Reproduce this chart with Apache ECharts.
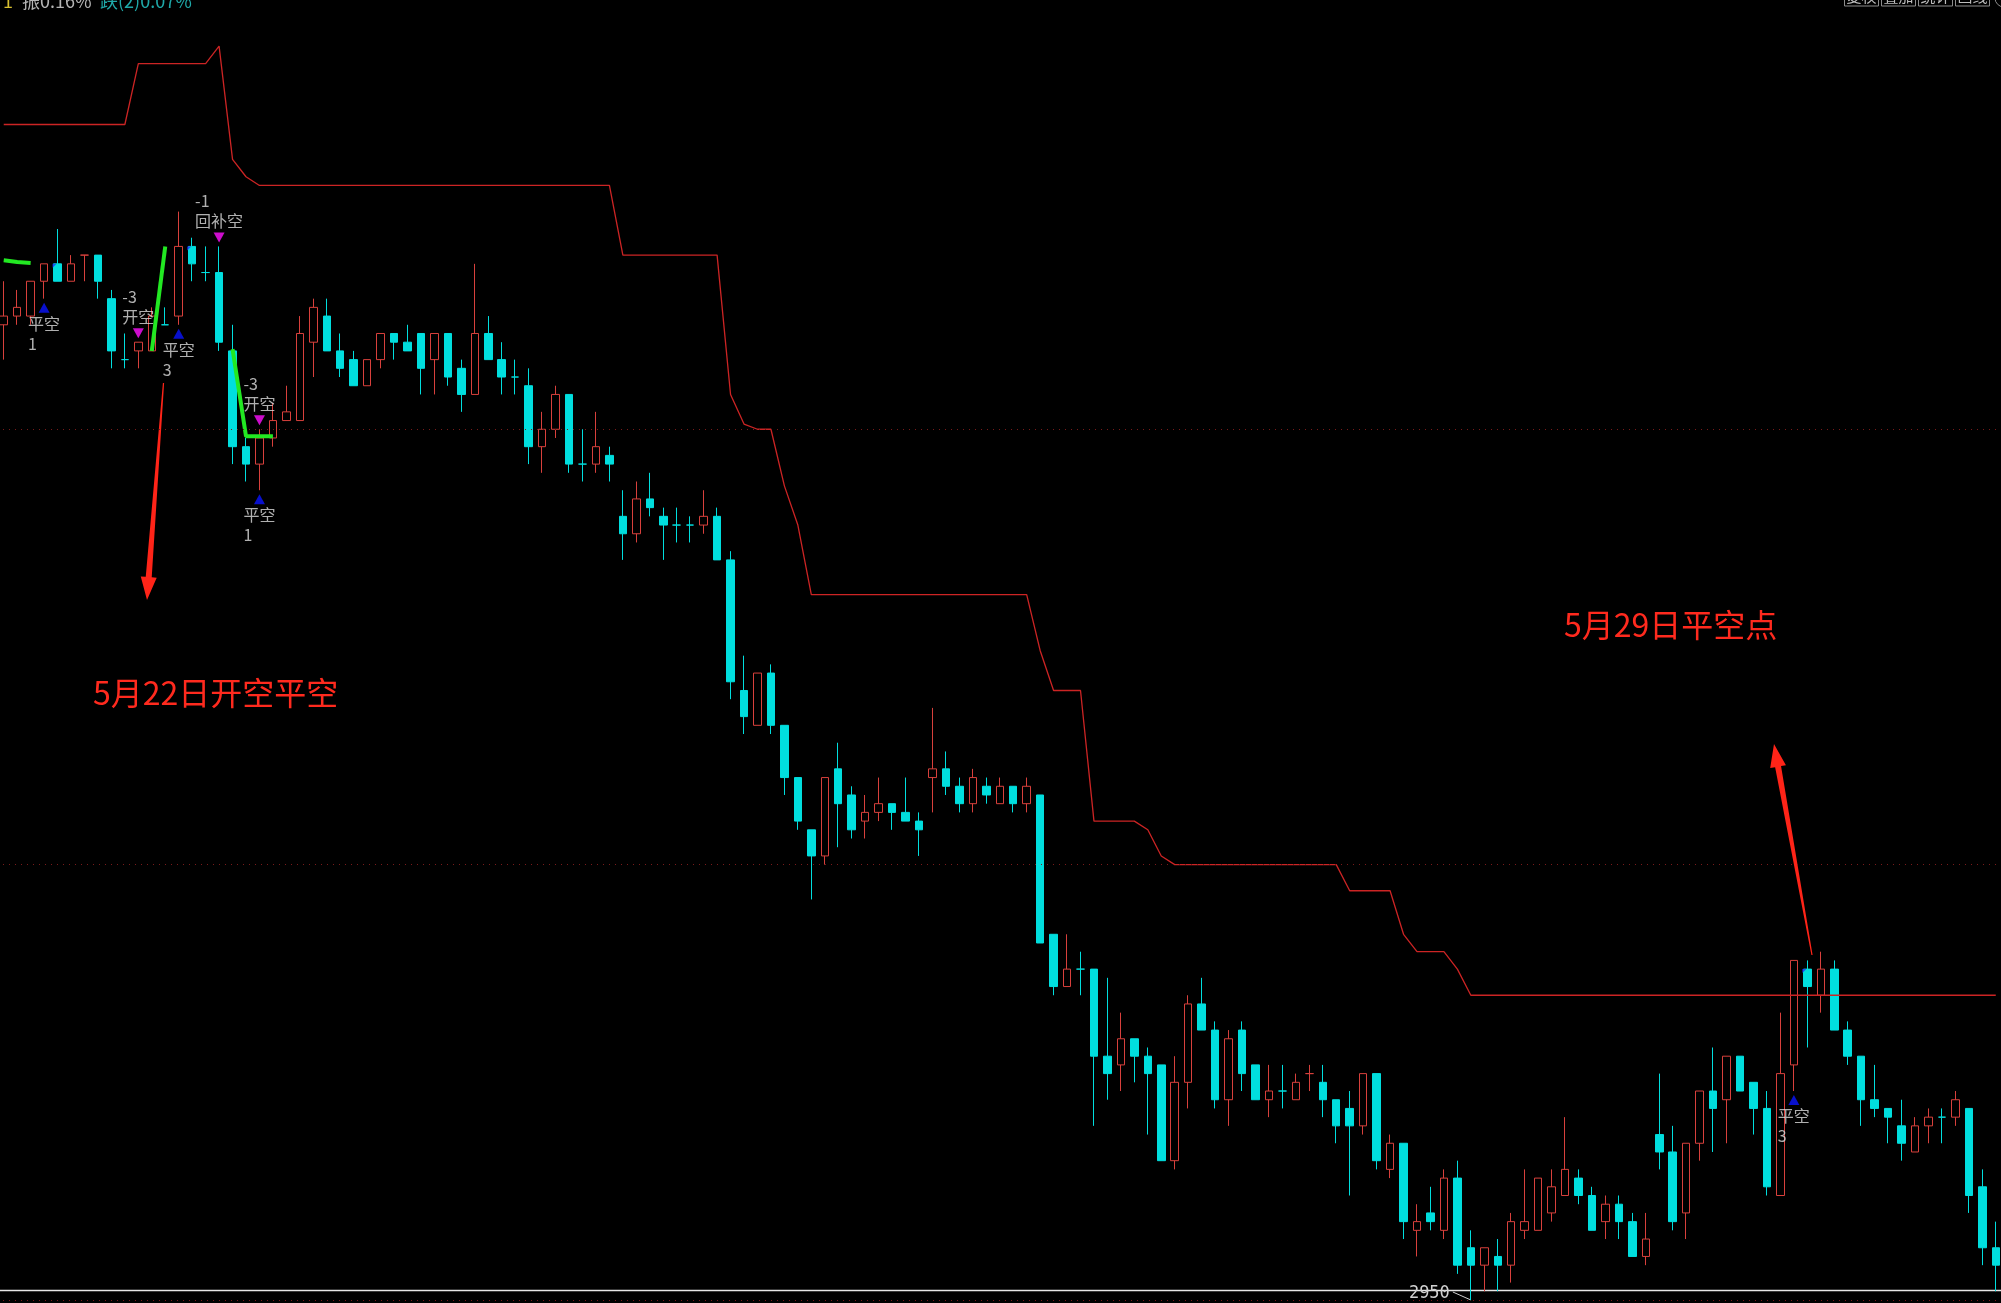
<!DOCTYPE html>
<html><head><meta charset="utf-8">
<script src="https://cdn.jsdelivr.net/npm/echarts@6/dist/echarts.min.js"></script>
<style>html,body{margin:0;padding:0;background:#000;overflow:hidden;width:2001px;height:1303px;position:relative}
#c{position:absolute;left:-3px;top:0;width:2006px;height:1303px}</style>
</head><body><div id="c"></div>
<script>
// ---------------- data ----------------
const opens = [3062,3063,3063,3067,3069,3067,3070,3070,3065,3058,
3059,3059,3062,3063,3071,3068,3068,3059,3048,3046,
3049,3051,3051,3060,3063,3059,3058,3055,3058,3061,
3060,3061,3058,3061,3057,3054,3061,3058,3056,3055,
3048,3050,3054,3046,3046,3047,3040,3038,3042,3040,
3039,3039,3039,3040,3035,3020,3016,3022,3016,3010,
3004,3001,3011,3008,3005,3006,3007,3006,3005,3010,
3011,3009,3007,3009,3007,3009,3007,3008,2992,2986,
2988,2988,2978,2977,2980,2978,2977,2966,2975,2984,
2981,2973,2981,2977,2973,2974,2973,2976,2975,2973,
2972,2970,2976,2965,2968,2958,2960,2958,2964,2956,
2954,2955,2954,2958,2958,2960,2962,2964,2962,2959,
2961,2959,2955,2969,2967,2960,2968,2974,2973,2978,
2975,2972,2962,2977,2988,2985,2988,2981,2978,2973,
2972,2970,2967,2970,2971,2971,2972,2963,2956];
const highs = [3067,3066,3067,3069,3073,3070,3070,3070,3066,3061,
3060,3064,3064,3075,3072,3071,3071,3062,3049,3050,
3053,3055,3063,3065,3065,3061,3059,3058,3061,3061,
3062,3061,3061,3061,3058,3069,3063,3060,3058,3057,
3052,3055,3054,3050,3052,3048,3043,3044,3045,3041,
3041,3040,3043,3041,3036,3024,3022,3023,3016,3010,
3004,3010,3014,3009,3008,3010,3007,3010,3006,3018,
3013,3010,3011,3010,3010,3009,3010,3008,2992,2992,
2990,2988,2987,2983,2980,2979,2977,2978,2985,2987,
2982,2981,2982,2977,2977,2977,2976,2977,2977,2973,
2974,2976,2976,2969,2968,2961,2963,2965,2966,2958,
2956,2957,2960,2965,2964,2965,2971,2965,2963,2962,
2962,2960,2960,2976,2970,2968,2974,2979,2978,2978,
2975,2974,2983,2989,2989,2990,2989,2982,2978,2977,
2972,2973,2971,2972,2972,2974,2972,2965,2959];
const lows = [3058,3062,3062,3065,3067,3067,3067,3065,3057,3057,
3057,3059,3062,3062,3067,3067,3059,3046,3044,3043,
3048,3051,3051,3056,3059,3056,3055,3055,3057,3058,
3059,3054,3054,3055,3052,3054,3058,3054,3054,3046,
3045,3049,3045,3044,3045,3044,3035,3037,3040,3035,
3037,3037,3038,3035,3019,3015,3016,3015,3008,3004,
2996,3000,3002,3003,3003,3005,3004,3005,3001,3006,
3008,3006,3006,3007,3007,3006,3006,2991,2985,2986,
2985,2970,2973,2974,2975,2969,2966,2965,2972,2981,
2972,2970,2974,2973,2971,2972,2973,2974,2971,2968,
2962,2969,2965,2964,2957,2955,2958,2957,2953,2950,
2951,2951,2952,2957,2958,2959,2962,2961,2958,2957,
2957,2955,2954,2965,2958,2957,2966,2967,2968,2974,
2969,2962,2962,2974,2979,2983,2981,2977,2970,2971,
2968,2966,2967,2968,2968,2970,2960,2954,2951];
const closes = [3063,3064,3067,3069,3067,3069,3070,3067,3059,3058,
3060,3063,3062,3071,3069,3068,3060,3048,3046,3049,
3051,3052,3061,3064,3059,3057,3055,3058,3061,3060,
3059,3057,3061,3056,3054,3061,3058,3056,3056,3048,
3050,3054,3046,3046,3048,3046,3038,3042,3041,3039,
3039,3039,3040,3035,3021,3017,3022,3016,3010,3005,
3001,3010,3007,3004,3006,3007,3006,3005,3004,3011,
3009,3007,3010,3008,3009,3007,3009,2991,2986,2988,
2988,2978,2976,2980,2978,2976,2966,2975,2984,2981,
2973,2980,2976,2973,2974,2974,2975,2976,2973,2970,
2970,2976,2966,2968,2959,2959,2959,2964,2954,2954,
2956,2954,2959,2959,2964,2963,2965,2962,2958,2961,
2959,2955,2957,2967,2959,2968,2974,2972,2978,2974,
2972,2963,2976,2989,2986,2988,2981,2978,2973,2972,
2971,2968,2970,2971,2971,2973,2962,2956,2954];
// stop (resistance) line, one value per bar
const stopLine = [3085,3085,3085,3085,3085,3085,3085,3085,3085,3085,
3092,3092,3092,3092,3092,3092,3094,3081,3079,3078,
3078,3078,3078,3078,3078,3078,3078,3078,3078,3078,
3078,3078,3078,3078,3078,3078,3078,3078,3078,3078,
3078,3078,3078,3078,3078,3078,3070,3070,3070,3070,
3070,3070,3070,3070,3054,3050.6,3050,3050,3043.5,3039,
3031,3031,3031,3031,3031,3031,3031,3031,3031,3031,
3031,3031,3031,3031,3031,3031,3031,3024.6,3020,3020,
3020,3005,3005,3005,3005,3004,3001,3000,3000,3000,
3000,3000,3000,3000,3000,3000,3000,3000,3000,3000,
2997,2997,2997,2997,2992,2990,2990,2990,2988,2985,
2985,2985,2985,2985,2985,2985,2985,2985,2985,2985,
2985,2985,2985,2985,2985,2985,2985,2985,2985,2985,
2985,2985,2985,2985,2985,2985,2985,2985,2985,2985,
2985,2985,2985,2985,2985,2985,2985,2985,2985];
// green signal segments: [barIndex, price]
const greenSeg1 = [[0,3069.4],[1,3069.2],[2,3069.1]];
const greenSeg2 = [[11,3059],[12,3071]];
const greenSeg3 = [[17,3059.2],[18,3049.2],[19,3049.2],[20,3049.2]];
// trade signals
const signals = [
  {i:3,   kind:'cover', lines:['平空','1']},
  {i:10,  kind:'short', lines:['-3','开空']},
  {i:13,  kind:'cover', lines:['平空','3']},
  {i:16,  kind:'short', lines:['-1','回补空']},
  {i:19,  kind:'short', lines:['-3','开空']},
  {i:19,  kind:'cover', lines:['平空','1']},
  {i:133, kind:'cover', lines:['平空','3']}
];
const flagBars = [4, 14, 134];
const gridLevels = [2950, 3000, 3050];
const notes = [
  {text:'5月22日开空平空', x:93, y:693},
  {text:'5月29日平空点', x:1564, y:625}
];
const headerParts = [
  {text:'1', color:'#d8c030', x:3},
  {text:'振0.16%', color:'#b4b4b4', x:22},
  {text:'跌(2)0.07%', color:'#1fa8a8', x:100}
];
const buttons = ['复权','叠加','统计','画线'];

// ---------------- chart ----------------
const RED = '#d8403c', CYAN = '#00dede';
const N = opens.length;
const categories = opens.map((_, i) => String(i));
const SHIFT = 3; // the chart div starts 3px left of the page

const candleData = opens.map((o, i) => {
  const v = [o, closes[i], lows[i], highs[i]];
  if (o === closes[i] && i > 0 && closes[i - 1] === closes[i]) {
    return {value: v, itemStyle: {borderColor: CYAN, color: CYAN}};
  }
  return v;
});

const FONT = '"Noto Sans CJK SC","Noto Sans",sans-serif';
function sigLabel(s) {
  const w = Math.max(...s.lines.map(t => /[\u4e00-\u9fff]/.test(t) ? t.length * 16 : t.length * 8));
  return {show: true, formatter: s.lines.join('\n'), position: s.kind === 'cover' ? 'bottom' : 'top',
    distance: 1, align: 'left', offset: [-w / 2, 0], color: '#dcdcdc', fontSize: 16, lineHeight: 20,
    fontFamily: FONT};
}
const coverData = signals.filter(s => s.kind === 'cover').map(s => ({value: [s.i, lows[s.i]], label: sigLabel(s)}));
const shortData = signals.filter(s => s.kind === 'short').map(s => ({value: [s.i, highs[s.i]], label: sigLabel(s)}));

const chart = echarts.init(document.getElementById('c'), null, {renderer: 'canvas'});
const option = {
  backgroundColor: '#000',
  animation: false,
  grid: {left: 0, right: 0.5, top: 0, bottom: 0},
  xAxis: {type: 'category', data: categories, boundaryGap: true, show: false},
  yAxis: {type: 'value', min: 2949.655, max: 3099.30, show: false, splitLine: {show: false}},
  series: [
    {type: 'candlestick', name: 'K', data: candleData, barWidth: 8,
      itemStyle: {color: '#000', color0: CYAN, borderColor: RED, borderColor0: CYAN, borderWidth: 1},
      markLine: {silent: true, symbol: ['none', 'none'], label: {show: false},
        lineStyle: {color: '#7a1a1a', type: [1, 5], width: 1},
        data: gridLevels.map(v => ({yAxis: v}))}
    },
    {type: 'line', name: 'stop', data: stopLine, symbol: 'none', z: 3,
      lineStyle: {color: '#cc2424', width: 1.3}},
    ...[greenSeg1, greenSeg2, greenSeg3].map(seg => ({type: 'line', data: seg, symbol: 'none', z: 4,
      lineStyle: {color: '#22e822', width: 4}})),
    {type: 'scatter', name: 'cover', data: coverData, symbol: 'triangle', symbolSize: [11, 10],
      symbolOffset: [0, 9], itemStyle: {color: '#0a14ff'}, z: 5},
    {type: 'scatter', name: 'short', data: shortData, symbol: 'path://M0,0 L10,0 L5,10 Z', symbolSize: [11, 10],
      symbolOffset: [0, -9], itemStyle: {color: '#ff10ff'}, z: 5},
    {type: 'scatter', name: 'flag', data: flagBars.map(i => [i, opens[i]]), symbol: 'path://M0,0 L4,0 L0,4 Z',
      symbolSize: 4, symbolOffset: [-3, 2], itemStyle: {color: '#1a2cff'}, z: 5}
  ]
};
chart.setOption(option);

// ---------- annotations (page coordinates, shifted into the chart div) ----------
function arrow(sx, sy, tx, ty) {
  const dx = tx - sx, dy = ty - sy, L = Math.hypot(dx, dy), ux = dx / L, uy = dy / L, nx = -uy, ny = ux;
  const hl = 23, hw = 8, w0 = 0.6, w1 = 3;
  const bx = tx - ux * hl, by = ty - uy * hl;
  return {type: 'polygon', shape: {points: [
    [sx + nx * w0, sy + ny * w0], [bx + nx * w1, by + ny * w1], [bx + nx * hw, by + ny * hw], [tx, ty],
    [bx - nx * hw, by - ny * hw], [bx - nx * w1, by - ny * w1], [sx - nx * w0, sy - ny * w0]]},
    style: {fill: '#ff2418'}};
}
let minI = 0; lows.forEach((v, i) => { if (v < lows[minI]) minI = i; });
const mpRaw = chart.convertToPixel({seriesIndex: 0}, [minI, lows[minI]]);
const mp = [mpRaw[0] - SHIFT, mpRaw[1]];

const children = [
  {type: 'line', shape: {x1: 0, y1: 1290.5, x2: 2001, y2: 1290.5}, style: {stroke: '#e6e6e6', lineWidth: 1.6}},
  arrow(163.5, 383, 147, 600),
  arrow(1812, 955, 1774, 744),
  ...notes.map(n => ({type: 'text', x: n.x, y: n.y, style: {text: n.text, fill: '#ff2a1e',
    font: '32px ' + FONT, textVerticalAlign: 'middle'}})),
  {type: 'line', shape: {x1: mp[0] - 18, y1: mp[1] - 8, x2: mp[0], y2: mp[1]}, style: {stroke: '#d0d0d0', lineWidth: 1}},
  {type: 'text', x: mp[0] - 21, y: mp[1] - 6, style: {text: String(lows[minI]), fill: '#d0d0d0',
    font: '17px "DejaVu Sans Mono", monospace', textAlign: 'right', textVerticalAlign: 'middle'}},
  ...headerParts.map(h => ({type: 'text', x: h.x, y: 10, style: {text: h.text, fill: h.color,
    font: '18px ' + FONT, textVerticalAlign: 'bottom'}})),
  ...buttons.map((b, k) => ({type: 'group', children: [
    {type: 'rect', shape: {x: 1844.5 + k * 37, y: -14, width: 34, height: 20}, style: {fill: 'none', stroke: '#8c8c8c', lineWidth: 1}},
    {type: 'text', x: 1861.5 + k * 37, y: 4, style: {text: b, fill: '#bcbcbc', font: '15px ' + FONT, textAlign: 'center', textVerticalAlign: 'bottom'}}
  ]})),
  {type: 'circle', shape: {cx: 2004, cy: -2, r: 9}, style: {fill: 'none', stroke: '#8c8c8c', lineWidth: 1}}
];
chart.setOption({graphic: [{type: 'group', x: SHIFT, y: 0, z: 10, children: children}]});
</script>
</body></html>
